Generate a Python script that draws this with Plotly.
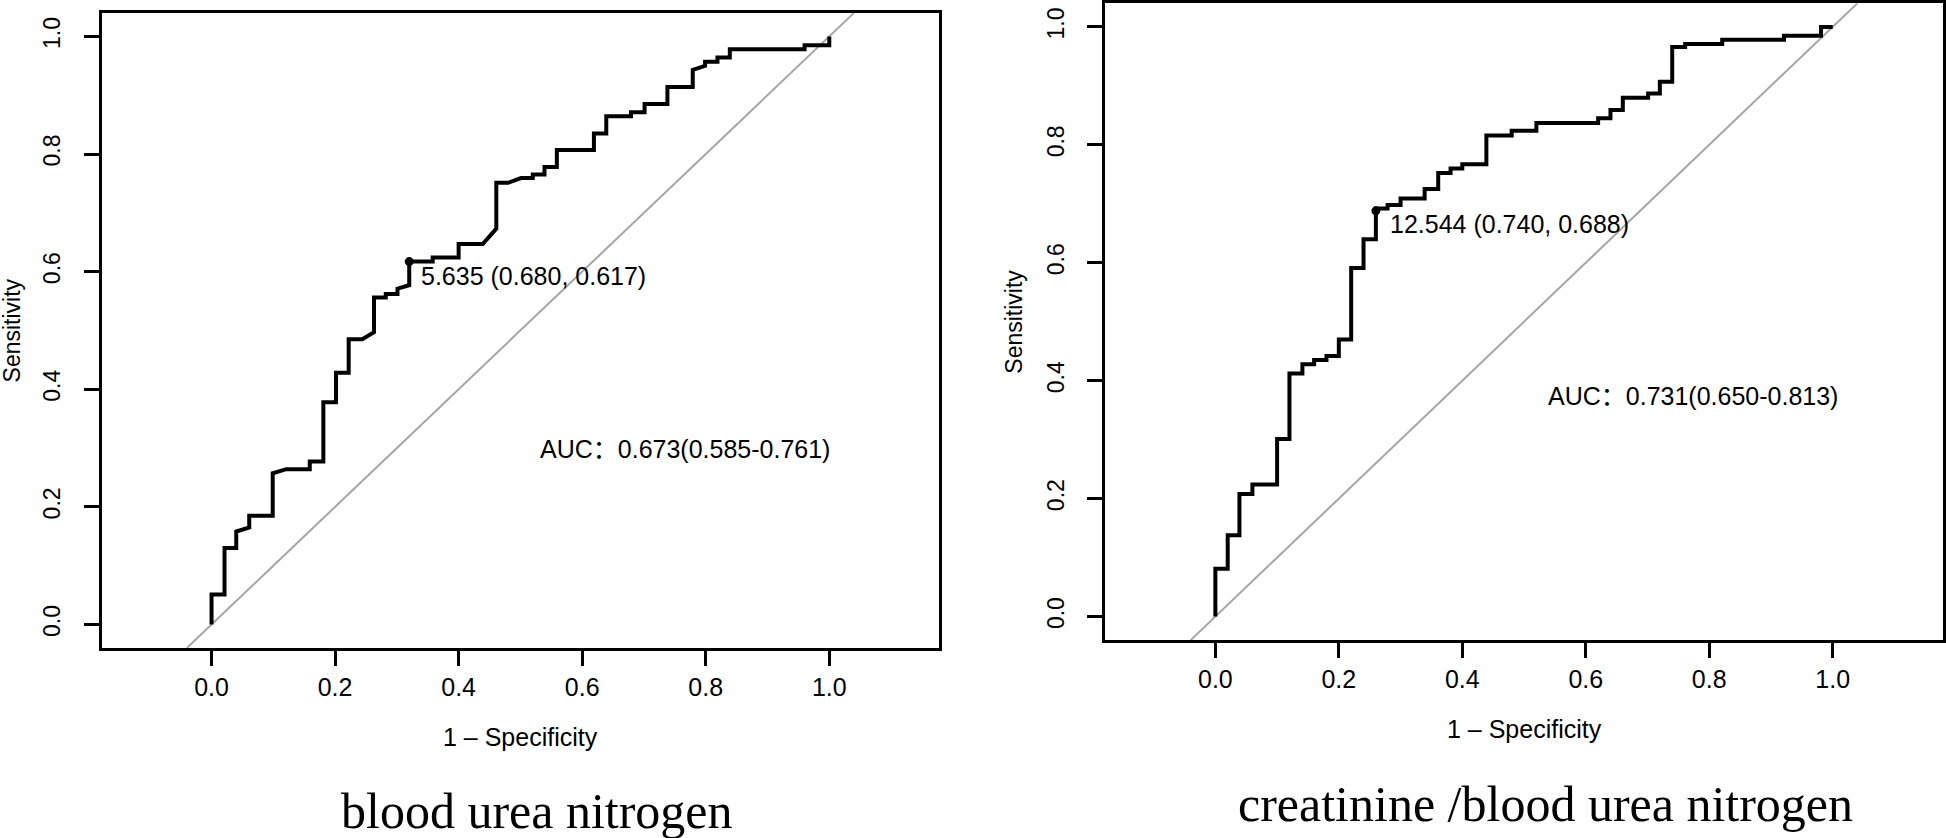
import plotly.graph_objects as go

# ROC curve vertices (x = 1 - specificity, y = sensitivity)
bun_fpr = [0, 0, 0.021, 0.021, 0.040, 0.040, 0.061, 0.061, 0.099, 0.099, 0.121, 0.159, 0.159,
           0.181, 0.181, 0.2015, 0.2015, 0.222, 0.222, 0.244, 0.263, 0.263, 0.282, 0.282, 0.301,
           0.301, 0.320, 0.320, 0.358, 0.358, 0.400, 0.400, 0.439, 0.461, 0.461, 0.480, 0.501,
           0.520, 0.520, 0.539, 0.539, 0.559, 0.559, 0.619, 0.619, 0.639, 0.639, 0.679, 0.679,
           0.701, 0.701, 0.738, 0.738, 0.779, 0.779, 0.799, 0.799, 0.819, 0.819, 0.839, 0.839,
           0.960, 0.960, 1.0, 1.0]
bun_tpr = [0, 0.051, 0.051, 0.130, 0.130, 0.158, 0.165, 0.185, 0.185, 0.257, 0.264, 0.264, 0.277,
           0.277, 0.378, 0.378, 0.428, 0.428, 0.485, 0.485, 0.497, 0.556, 0.556, 0.562, 0.562,
           0.571, 0.577, 0.617, 0.617, 0.624, 0.624, 0.647, 0.647, 0.673, 0.751, 0.751, 0.759,
           0.759, 0.765, 0.765, 0.778, 0.778, 0.807, 0.807, 0.835, 0.835, 0.864, 0.864, 0.871,
           0.871, 0.885, 0.885, 0.914, 0.914, 0.943, 0.950, 0.957, 0.957, 0.964, 0.964, 0.978,
           0.978, 0.985, 0.985, 1.0]

ratio_fpr = [0, 0, 0.020, 0.020, 0.039, 0.039, 0.060, 0.060, 0.100, 0.100, 0.120, 0.120, 0.141,
             0.141, 0.160, 0.160, 0.180, 0.180, 0.200, 0.200, 0.220, 0.220, 0.240, 0.240, 0.260,
             0.260, 0.279, 0.279, 0.300, 0.300, 0.339, 0.339, 0.361, 0.361, 0.381, 0.381, 0.400,
             0.400, 0.439, 0.439, 0.480, 0.480, 0.520, 0.520, 0.620, 0.620, 0.640, 0.640, 0.660,
             0.660, 0.701, 0.701, 0.720, 0.720, 0.740, 0.740, 0.761, 0.761, 0.821, 0.821, 0.921,
             0.921, 0.981, 0.981, 1.0]
ratio_tpr = [0, 0.081, 0.081, 0.138, 0.138, 0.208, 0.208, 0.224, 0.224, 0.301, 0.301, 0.412, 0.412,
             0.428, 0.428, 0.435, 0.435, 0.442, 0.442, 0.470, 0.470, 0.591, 0.591, 0.640, 0.640,
             0.692, 0.692, 0.698, 0.698, 0.709, 0.709, 0.725, 0.725, 0.752, 0.752, 0.760, 0.760,
             0.767, 0.767, 0.816, 0.816, 0.824, 0.824, 0.837, 0.837, 0.845, 0.845, 0.859, 0.859,
             0.880, 0.880, 0.887, 0.887, 0.907, 0.907, 0.966, 0.966, 0.971, 0.971, 0.978, 0.978,
             0.985, 0.985, 1.0, 1.0]

# best threshold points
bun_best = [0.320, 0.617]
ratio_best = [0.260, 0.688]
bun_best_text = '5.635 (0.680, 0.617)'
ratio_best_text = '12.544 (0.740, 0.688)'

bun_auc_text = 'AUC：0.673(0.585-0.761)'
ratio_auc_text = 'AUC：0.731(0.650-0.813)'

titles = ['blood urea nitrogen', 'creatinine /blood urea nitrogen']

tick_vals = [0, 0.2, 0.4, 0.6, 0.8, 1.0]
tick_text = ['0.0', '0.2', '0.4', '0.6', '0.8', '1.0']

x_range = [-0.178, 1.178]
y_range = [-0.04, 1.04]

sans = 'Liberation Sans, Arial, Noto Sans CJK SC'
serif = 'Liberation Serif, Times New Roman, serif'

fig = go.Figure()

# reference diagonal
for xa, ya in [('x', 'y'), ('x2', 'y2')]:
    fig.add_trace(go.Scatter(x=y_range, y=y_range, xaxis=xa, yaxis=ya, mode='lines',
                             line=dict(color='#a5a5a5', width=2), hoverinfo='skip'))

fig.add_trace(go.Scatter(x=bun_fpr, y=bun_tpr, mode='lines', xaxis='x', yaxis='y',
                         line=dict(color='black', width=4)))
fig.add_trace(go.Scatter(x=ratio_fpr, y=ratio_tpr, mode='lines', xaxis='x2', yaxis='y2',
                         line=dict(color='black', width=4)))

fig.add_trace(go.Scatter(x=[bun_best[0]], y=[bun_best[1]], mode='markers', xaxis='x', yaxis='y',
                         marker=dict(color='black', size=9)))
fig.add_trace(go.Scatter(x=[ratio_best[0]], y=[ratio_best[1]], mode='markers', xaxis='x2', yaxis='y2',
                         marker=dict(color='black', size=9)))

axis_style = dict(
    showgrid=False, zeroline=False,
    showline=True, mirror=True, linecolor='black', linewidth=3,
    ticks='outside', ticklen=15, tickwidth=2.5, tickcolor='black',
    tickvals=tick_vals, ticktext=tick_text,
)
xfont = dict(family=sans, size=25, color='black')
yfont = dict(family=sans, size=23, color='black')

fig.update_layout(
    width=1946, height=838,
    paper_bgcolor='white', plot_bgcolor='white',
    margin=dict(l=0, r=0, t=0, b=0),
    showlegend=False,
    xaxis=dict(axis_style, domain=[0.05226, 0.48314], range=x_range, anchor='y',
               tickfont=xfont, ticklabelstandoff=0),
    yaxis=dict(axis_style, domain=[0.22757, 0.98819], range=y_range, anchor='x', tickangle=-90,
               tickfont=yfont, ticklabelstandoff=14),
    xaxis2=dict(axis_style, domain=[0.56866, 0.99928], range=x_range, anchor='y2',
                tickfont=xfont, ticklabelstandoff=0),
    yaxis2=dict(axis_style, domain=[0.2370, 0.99964], range=y_range, anchor='x2', tickangle=-90,
                tickfont=yfont, ticklabelstandoff=14),
)

txt = dict(family=sans, size=25, color='black')

# cutoff labels and AUC text
fig.add_annotation(x=bun_best[0], y=bun_best[1], xref='x', yref='y', text=bun_best_text,
                   showarrow=False, xanchor='left', yanchor='middle', xshift=10, yshift=-14, font=txt)
fig.add_annotation(x=ratio_best[0], y=ratio_best[1], xref='x2', yref='y2', text=ratio_best_text,
                   showarrow=False, xanchor='left', yanchor='middle', xshift=12, yshift=-13, font=txt)
fig.add_annotation(x=0.528, y=0.299, xref='x', yref='y', text=bun_auc_text,
                   showarrow=False, xanchor='left', yanchor='middle', font=txt)
fig.add_annotation(x=0.535, y=0.3735, xref='x2', yref='y2', text=ratio_auc_text,
                   showarrow=False, xanchor='left', yanchor='middle', font=txt)

# axis titles
for xp, yp in [(0.26757, 0.12088), (0.78397, 0.13031)]:
    fig.add_annotation(x=xp, y=yp, xref='paper', yref='paper', text='1 – Specificity',
                       showarrow=False, xanchor='center', yanchor='middle', font=txt)
for xp, yp in [(0.0062, 0.6079), (0.52158, 0.61826)]:
    fig.add_annotation(x=xp, y=yp, xref='paper', yref='paper', text='Sensitivity', textangle=-90,
                       showarrow=False, xanchor='center', yanchor='middle', font=yfont)

# panel captions
for xp, yp, t in [(0.2760, 0.0322, titles[0]), (0.7948, 0.0406, titles[1])]:
    fig.add_annotation(x=xp, y=yp, xref='paper', yref='paper', text=t, showarrow=False,
                       xanchor='center', yanchor='middle',
                       font=dict(family=serif, size=50, color='black'))

fig.write_html("out.html", config={'displayModeBar': False},
               post_script="document.body.style.margin='0';")
